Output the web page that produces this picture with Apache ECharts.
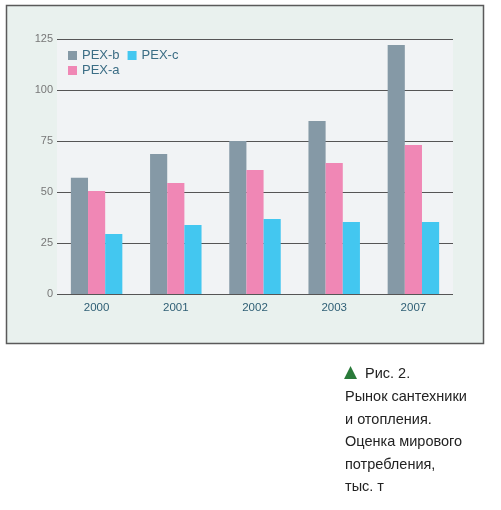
<!DOCTYPE html>
<html><head><meta charset="utf-8">
<script src="https://cdn.jsdelivr.net/npm/echarts@6/dist/echarts.min.js"></script>
<style>html,body{margin:0;padding:0;background:#fff}#c{width:501px;height:510px}</style>
</head><body><div id="c"></div>
<script>
const categories = ['2000', '2001', '2002', '2003', '2007'];
const pexB = [57, 68.6, 75, 84.8, 122];
const pexA = [50.5, 54.4, 60.8, 64.2, 73];
const pexC = [29.4, 33.8, 36.8, 35.3, 35.3];
const yTicks = [0, 25, 50, 75, 100, 125];
const captionLines = ['Рынок сантехники', 'и отопления.', 'Оценка мирового', 'потребления,', 'тыс. т'];

const chart = echarts.init(document.getElementById('c'), null, {renderer: 'canvas'});
const font = '"Liberation Sans", Arial, sans-serif';
const legendText = {color: '#3b6d85', fontSize: 13, fontFamily: font};
const captionGraphics = [
  {type: 'text', left: 344, top: 364, style: {text: '▲', fill: '#2a7a3a', font: '17px "DejaVu Sans", sans-serif'}},
  {type: 'text', left: 365, top: 366, style: {text: 'Рис. 2.', fill: '#222', font: '14.5px ' + font}}
];
captionLines.forEach((t, i) => captionGraphics.push({
  type: 'text', left: 345, top: 389.5 + i * 22.5, style: {text: t, fill: '#222', font: '14.5px ' + font}
}));

chart.setOption({
  animation: false,
  backgroundColor: '#ffffff',
  graphic: [
    {type: 'rect', z: -10, shape: {x: 6.5, y: 5.5, width: 477, height: 338},
     style: {fill: '#e9f1ee', stroke: '#5a5a5a', lineWidth: 1.5}},
    ...captionGraphics
  ],
  grid: {left: 57, right: 48, top: 39, bottom: 216, show: true, backgroundColor: '#f1f3f5', borderWidth: 0},
  legend: [
    {data: ['PEX-b', 'PEX-c'], left: 63, top: 44, itemWidth: 9, itemHeight: 9, itemGap: 8,
     icon: 'rect', textStyle: legendText},
    {data: ['PEX-a'], left: 63, top: 59, itemWidth: 9, itemHeight: 9, icon: 'rect', textStyle: legendText}
  ],
  xAxis: {
    type: 'category', data: categories,
    axisLine: {show: false}, axisTick: {show: false},
    axisLabel: {color: '#2f5f75', fontSize: 11.5, fontFamily: font, margin: 8}
  },
  yAxis: {
    type: 'value', min: 0, max: 125, interval: 25,
    axisLine: {show: false}, axisTick: {show: false},
    axisLabel: {color: '#777', fontSize: 11, fontFamily: font, margin: 4,
      formatter: v => yTicks.includes(v) ? String(v) : ''},
    splitLine: {lineStyle: {color: '#555', width: 1.2}}
  },
  series: [
    {name: 'PEX-b', type: 'bar', data: pexB, itemStyle: {color: '#8599a6'}, barGap: '0%', barCategoryGap: '35%'},
    {name: 'PEX-a', type: 'bar', data: pexA, itemStyle: {color: '#f087b5'}},
    {name: 'PEX-c', type: 'bar', data: pexC, itemStyle: {color: '#43c7f0'}}
  ]
});
</script></body></html>
